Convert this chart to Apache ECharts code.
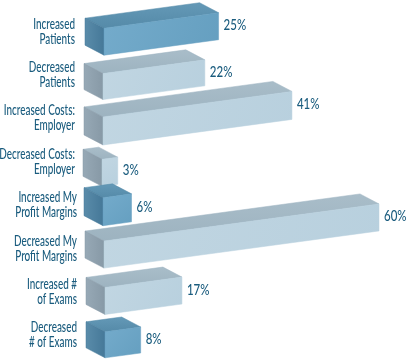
<!DOCTYPE html>
<html><head><meta charset="utf-8">
<style>html,body{margin:0;padding:0;background:#fff}#c{width:406px;height:360px}</style>
<script src="https://cdn.jsdelivr.net/npm/echarts@6/dist/echarts.min.js"></script>
</head><body><div id="c"></div>
<script>
const categories = ["Increased\nPatients","Decreased\nPatients","Increased Costs:\nEmployer","Decreased Costs:\nEmployer","Increased My\nProfit Margins","Decreased My\nProfit Margins","Increased #\nof Exams","Decreased\n# of Exams"];
const percents = [25,22,41,3,6,60,17,8];
const emphasised = [1,0,0,0,1,0,0,1];

// drawing style: box projection and small per-band optical shifts
const DEPTH_X = 19, DEPTH_Y = 10, SLOPE = 0.135, HEIGHT = 27, RISE = 3;
const bandShiftY = [0,2,2,1,-4,-4,-1,0];
const bandShiftX = [0,-1,-1,-2,-1,0,1,1];
const bandHeight = [0,-1,1,0,1,0,0,-1];
const labelRight = [75,75,75,75,77,77,77,77];
const FONT = 'Lato,"Noto Sans",sans-serif', INK = '#1a5c7e';
const strong = {front:['#74abcb','#659fc0'], top:['#6499b7','#558aa8'], left:['#5a8caa','#457898']};
const pale = {front:['#c1d6e2','#b8d0de'], top:['#a9bdc9','#9db3c0'], left:['#97a9b6','#8799a6']};
const grad = (a,b,x2,y2)=>new echarts.graphic.LinearGradient(0,0,x2,y2,[{offset:0,color:a},{offset:1,color:b}]);

const chart = echarts.init(document.getElementById('c'), null, {renderer:'canvas'});
chart.setOption({
  animation:false,
  grid:{left:104,top:9.5,width:275,height:347,outerBoundsMode:'none'},
  xAxis:{type:'value',min:0,max:60,show:false},
  yAxis:{type:'category',inverse:true,data:categories,
    axisLine:{show:false},axisTick:{show:false},axisLabel:{show:false}},
  series:[{
    type:'custom',
    data:percents.map((v,i)=>[v,i]),
    encode:{x:0,y:1},
    clip:false,
    renderItem:(params,api)=>{
      const i=api.value(1), v=api.value(0);
      const zero=api.coord([0,i]), end=api.coord([v,i]);
      const c=emphasised[i]?strong:pale;
      const h=HEIGHT+bandHeight[i];
      const x0=zero[0]+bandShiftX[i], y0=zero[1]-RISE+bandShiftY[i];
      const x1=end[0], y1=y0-(x1-x0)*SLOPE;
      const fTL=[x0,y0], fTR=[x1,y1], fBR=[x1,y1+h], fBL=[x0,y0+h];
      const bTL=[x0-DEPTH_X,y0-DEPTH_Y], bTR=[x1-DEPTH_X,y1-DEPTH_Y], bBL=[x0-DEPTH_X,y0+h-DEPTH_Y];
      const face=(pts,a,b,x2,y2)=>({type:'polygon',shape:{points:pts},style:{fill:grad(a,b,x2,y2),stroke:b,lineWidth:0.5}});
      return {type:'group',children:[
        face([bTL,bTR,fTR,fTL],c.top[0],c.top[1],0,1),
        face([bTL,fTL,fBL,bBL],c.left[0],c.left[1],1,0),
        face([fTL,fTR,fBR,fBL],c.front[0],c.front[1],1,1),
        {type:'text',x:x1+5,y:y1+h/2-1,scaleX:0.74,style:{x:0,y:0,text:v+'%',fill:INK,fontSize:15.5,fontWeight:500,verticalAlign:'middle',align:'left',fontFamily:FONT}},
        {type:'text',x:labelRight[i],y:zero[1],scaleX:0.64,style:{x:0,y:0,text:categories[i],fill:INK,fontSize:15.5,fontWeight:500,lineHeight:15,verticalAlign:'middle',align:'right',fontFamily:FONT}}
      ]};
    }
  }]
});
</script></body></html>
